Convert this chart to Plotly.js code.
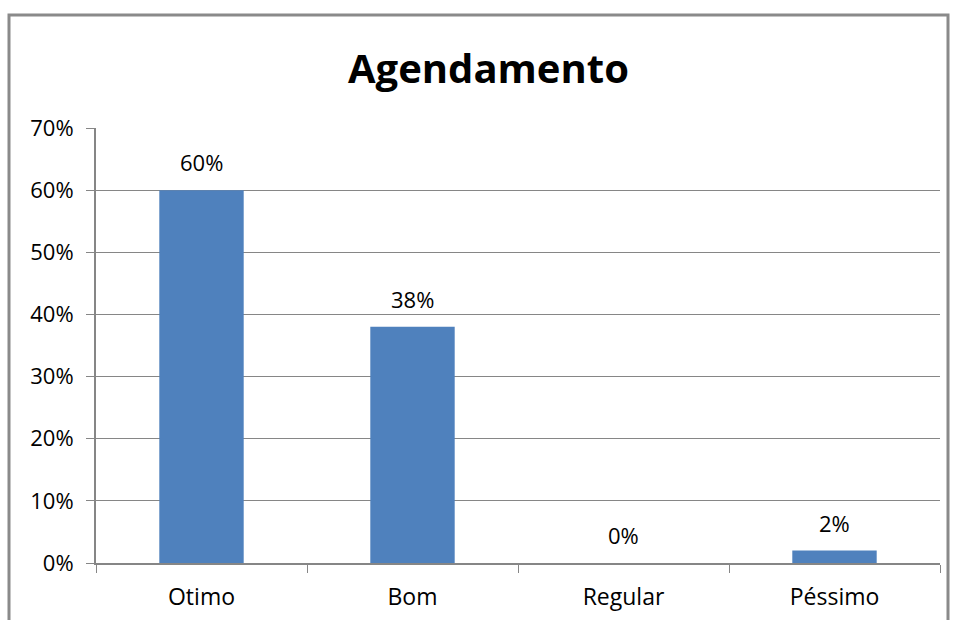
<!DOCTYPE html>
<html><head><meta charset="utf-8">
<script src="https://cdn.plot.ly/plotly-3.0.1.min.js"></script>
<style>html,body{margin:0;padding:0;background:#fff}#c{width:953px;height:620px}</style>
</head><body><div id="c"></div>
<script>
const categories = ["Otimo", "Bom", "Regular", "Péssimo"];
const values = [0.60, 0.38, 0.00, 0.02];
const labels = ["60%", "38%", "0%", "2%"];
const yTickVals = [0, 0.1, 0.2, 0.3, 0.4, 0.5, 0.6, 0.7];

const font = "Open Sans, DejaVu Sans, sans-serif";
const trace = {
  type: "bar", x: categories, y: values,
  marker: {color: "#4F81BD"}, hoverinfo: "none"
};
const annotations = categories.map((c, i) => ({
  x: c, y: values[i], text: labels[i], showarrow: false,
  xref: "x", yref: "y", yshift: 28, font: {family: font, size: 22, color: "#000"}
}));
annotations.push({
  xref: "paper", yref: "paper", x: (488 - 96) / 844, y: (563 - 67) / 435,
  text: "<b>Agendamento</b>", showarrow: false, xanchor: "center", yanchor: "middle",
  font: {family: font, size: 40, color: "#000"}
});
const layout = {
  width: 953, height: 620,
  margin: {l: 96, r: 13, t: 128, b: 57},
  paper_bgcolor: "#fff", plot_bgcolor: "#fff",
  showlegend: false, bargap: 0.6,
  xaxis: {
    type: "category", tickson: "boundaries", ticks: "outside", ticklen: 8,
    tickcolor: "#868686", showline: true, linecolor: "#868686", linewidth: 2,
    showgrid: false, tickfont: {family: font, size: 23, color: "#000"},
    ticklabelstandoff: 12, fixedrange: true
  },
  yaxis: {
    range: [0, 0.7], tickvals: yTickVals, tickformat: ".0%", ticks: "outside",
    ticklen: 8, tickcolor: "#868686", showline: true, linecolor: "#868686", linewidth: 2,
    showgrid: true, gridcolor: "#868686", gridwidth: 1, zeroline: false,
    tickfont: {family: font, size: 22, color: "#000"}, ticklabelstandoff: 8, fixedrange: true
  },
  annotations: annotations,
  shapes: [{
    type: "rect", xref: "paper", yref: "paper", layer: "below",
    x0: (9 - 96) / 844, x1: (948 - 96) / 844, y0: -0.3, y1: (563 - 15) / 435,
    line: {color: "#8a8a8a", width: 3}
  }]
};
Plotly.newPlot("c", [trace], layout, {displayModeBar: false, staticPlot: true});
</script></body></html>
